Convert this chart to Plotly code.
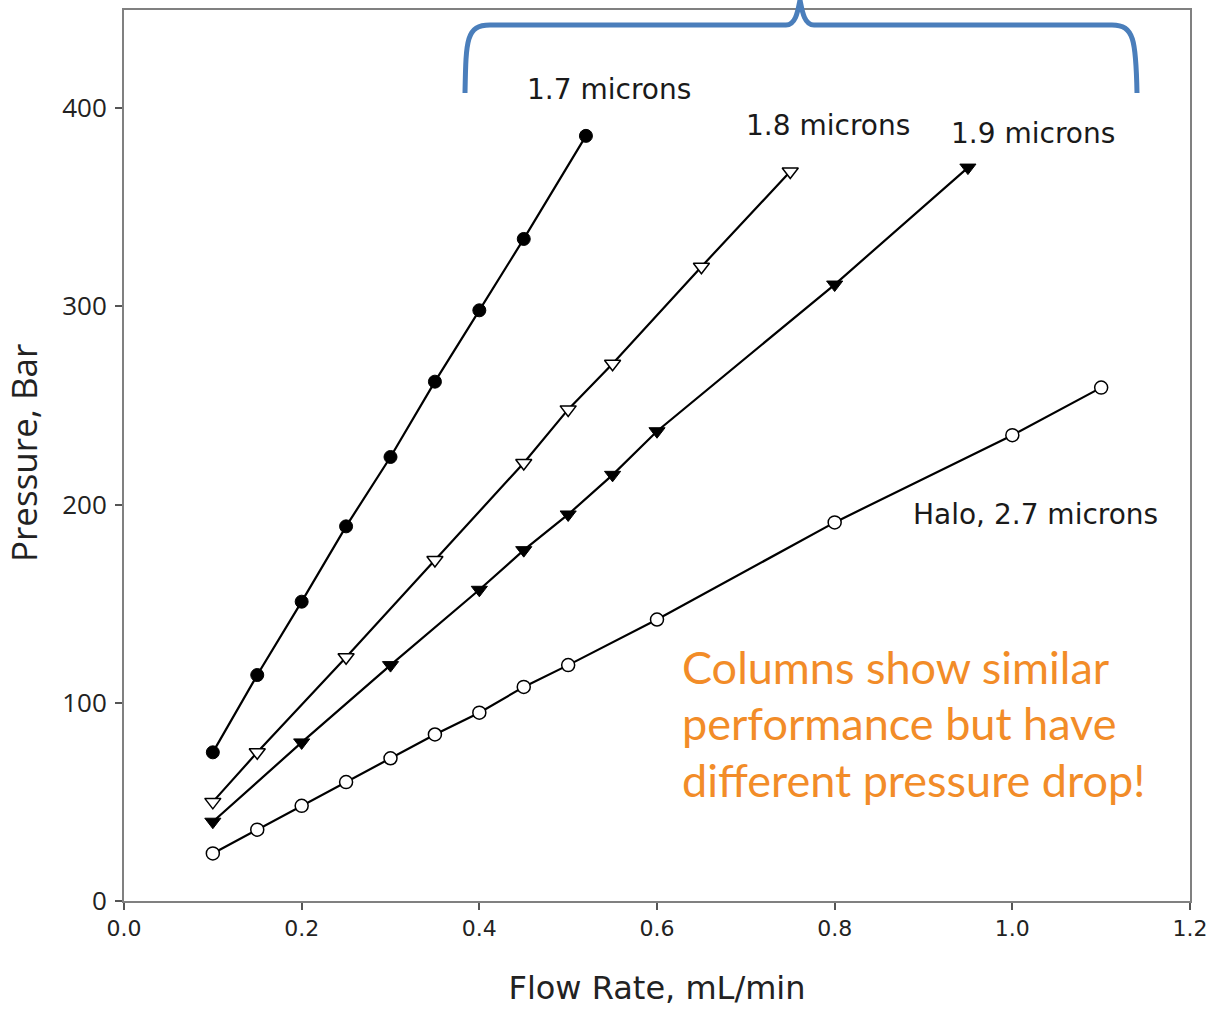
import plotly.graph_objects as go

# ---- data ----
x_17 = [0.10, 0.15, 0.20, 0.25, 0.30, 0.35, 0.40, 0.45, 0.52]
y_17 = [75, 114, 151, 189, 224, 262, 298, 334, 386]

x_18 = [0.10, 0.15, 0.25, 0.35, 0.45, 0.50, 0.55, 0.65, 0.75]
y_18 = [50, 75, 123, 172, 221, 248, 271, 320, 368]

x_19 = [0.10, 0.20, 0.30, 0.40, 0.45, 0.50, 0.55, 0.60, 0.80, 0.95]
y_19 = [40, 80, 119, 157, 177, 195, 215, 237, 311, 370]

x_halo = [0.10, 0.15, 0.20, 0.25, 0.30, 0.35, 0.40, 0.45, 0.50, 0.60, 0.80, 1.00, 1.10]
y_halo = [24, 36, 48, 60, 72, 84, 95, 108, 119, 142, 191, 235, 259]

series_labels = ["1.7 microns", "1.8 microns", "1.9 microns", "Halo, 2.7 microns"]
label_x = [0.546, 0.7925, 1.023, 1.0256]
label_y = [409.5, 391.4, 387.0, 195.2]

note_lines = ["Columns show similar", "performance but have", "different pressure drop!"]
note_y = [118, 89.8, 61]

x_ticks = [0.0, 0.2, 0.4, 0.6, 0.8, 1.0, 1.2]
y_ticks = [0, 100, 200, 300, 400]

W, H = 1211, 1009
ML, MR, MT, MB = 124, 21, 10, 108
PW, PH = W - ML - MR, H - MT - MB

fig = go.Figure()
line = dict(color="black", width=2.2)
fig.add_trace(go.Scatter(x=x_17, y=y_17, mode="lines+markers", line=line,
                         marker=dict(symbol="circle", size=13, color="black",
                                     line=dict(color="black", width=1))))
fig.add_trace(go.Scatter(x=x_18, y=y_18, mode="lines+markers", line=line,
                         marker=dict(symbol="triangle-down", size=14, color="white",
                                     line=dict(color="black", width=1.5))))
fig.add_trace(go.Scatter(x=x_19, y=y_19, mode="lines+markers", line=line,
                         marker=dict(symbol="triangle-down", size=14, color="black",
                                     line=dict(color="black", width=1))))
fig.add_trace(go.Scatter(x=x_halo, y=y_halo, mode="lines+markers", line=line,
                         marker=dict(symbol="circle", size=13, color="white",
                                     line=dict(color="black", width=1.5))))

for t, lx, ly in zip(series_labels, label_x, label_y):
    fig.add_annotation(x=lx, y=ly, text=t, showarrow=False,
                       font=dict(family="DejaVu Sans", size=28, color="#1a1a1a"),
                       xanchor="center", yanchor="middle")

for t, ny in zip(note_lines, note_y):
    fig.add_annotation(x=0.6255, y=ny, text=t, showarrow=False,
                       font=dict(family="Lato", size=45, color="#F28C28"),
                       xanchor="left", yanchor="middle")

# helpers: pixel -> paper coords (for decorations)
def px(x):
    return (x - ML) / PW

def py(y):
    return (H - MB - y) / PH

# y axis title as rotated annotation
fig.add_annotation(x=px(24), y=py(453), xref="paper", yref="paper",
                   text="Pressure, Bar", textangle=-90, showarrow=False,
                   font=dict(family="Open Sans", size=35, color="#222222"),
                   xanchor="center", yanchor="middle")

# brace
pts = [
    ("M", [(465, 93)]),
    ("C", [(466, 40), (466, 25), (490, 25)]),
    ("L", [(786, 25)]),
    ("C", [(796, 25), (798, 10), (800, 0)]),
    ("C", [(802, 10), (804, 25), (814, 25)]),
    ("L", [(1112, 25)]),
    ("C", [(1134, 25), (1136, 40), (1137, 93)]),
]
path = " ".join(cmd + " " + " ".join(f"{px(a):.5f},{py(b):.5f}" for a, b in p) for cmd, p in pts)
fig.add_shape(type="path", path=path, xref="paper", yref="paper",
              line=dict(color="#4A7EBB", width=5), layer="above")

axis_common = dict(showline=True, linecolor="#808080", linewidth=2, mirror=True,
                   showgrid=False, zeroline=False, ticks="outside", ticklen=7,
                   tickcolor="#555555", tickwidth=2, automargin=False)

fig.update_layout(
    width=W, height=H,
    margin=dict(l=ML, r=MR, t=MT, b=MB),
    paper_bgcolor="white", plot_bgcolor="white",
    showlegend=False,
    xaxis=dict(range=[0, 1.2], tickvals=x_ticks, tickformat=".1f",
               tickfont=dict(family="DejaVu Sans", size=22, color="#222222"),
               title=dict(text="Flow Rate, mL/min", standoff=36,
                          font=dict(family="DejaVu Sans", size=32, color="#222222")),
               **axis_common),
    yaxis=dict(range=[0, 449.5], tickvals=y_ticks,
               tickfont=dict(family="Open Sans", size=26, color="#222222"),
               ticklabelstandoff=3,
               **axis_common),
)

fig.write_html("out.html")
